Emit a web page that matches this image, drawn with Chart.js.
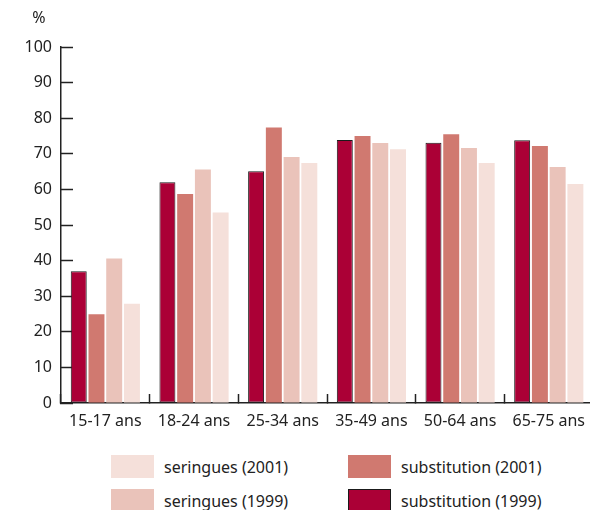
<!DOCTYPE html>
<html>
<head>
<meta charset="utf-8">
<script src="https://cdn.jsdelivr.net/npm/chart.js@4/dist/chart.umd.min.js"></script>
<style>
  html, body { margin: 0; padding: 0; background: #fff; }
  body { width: 590px; height: 510px; overflow: hidden; font-family: "Noto Sans", sans-serif; color: #222; }
  #wrap { position: relative; width: 603px; height: 440px; }
  #legende { position: relative; height: 70px; }
  .item { position: absolute; display: flex; align-items: center; font-size: 16px; }
  .item span.boite { display: inline-block; width: 43px; height: 23px; box-sizing: border-box; margin-right: 10px; }
</style>
</head>
<body>
<div id="wrap"><canvas id="myChart"></canvas></div>
<div id="legende"></div>
<script>
var categories    = ['15-17 ans', '18-24 ans', '25-34 ans', '35-49 ans', '50-64 ans', '65-75 ans'];
var subst1999     = [37.0, 62.0, 65.1, 73.9, 73.1, 73.8];
var subst2001     = [24.9, 58.7, 77.4, 75.0, 75.5, 72.2];
var seringues1999 = [40.6, 65.6, 69.1, 73.0, 71.6, 66.3];
var seringues2001 = [27.9, 53.5, 67.4, 71.3, 67.4, 61.5];
var graduations   = [0, 10, 20, 30, 40, 50, 60, 70, 80, 90, 100];

var encre = '#222';
var police = { family: '"Noto Sans", sans-serif', size: 16 };

// petit "%" au-dessus de l'axe vertical
var pourcent = {
    id: 'pourcent',
    afterDraw: function(chart) {
        var ctx = chart.ctx;
        ctx.save();
        ctx.fillStyle = encre;
        ctx.font = '16px "Noto Sans", sans-serif';
        ctx.textAlign = 'center';
        ctx.textBaseline = 'middle';
        ctx.fillText('%', 39, 18);
        ctx.restore();
    }
};

var canvas  = document.getElementById('myChart');
var context = canvas.getContext('2d');

var myChart = new Chart(context, {
    type: 'bar',
    data: {
        labels: categories,
        datasets: [
            { label: 'substitution (1999)', data: subst1999, backgroundColor: '#ab0036', borderColor: '#1a1a1a', borderWidth: 1, borderSkipped: false },
            { label: 'substitution (2001)', data: subst2001, backgroundColor: '#d07970', borderWidth: 0 },
            { label: 'seringues (1999)', data: seringues1999, backgroundColor: '#eac3ba', borderWidth: 0 },
            { label: 'seringues (2001)', data: seringues2001, backgroundColor: '#f5e0da', borderWidth: 0 }
        ]
    },
    options: {
        responsive: true,
        maintainAspectRatio: false,
        animation: false,
        layout: { padding: { top: 47, left: 0, right: 0, bottom: 0 } },
        datasets: { bar: { categoryPercentage: 0.8, barPercentage: 0.9 } },
        plugins: {
            legend: { display: false },
            tooltip: { enabled: false }
        },
        scales: {
            x: {
                grid: {
                    offset: true,
                    drawOnChartArea: false,
                    tickLength: -9,
                    tickWidth: 1.5,
                    tickColor: encre
                },
                border: { color: encre, width: 1.5 },
                ticks: { color: encre, font: police, padding: 18, maxRotation: 0 },
                afterFit: function(s) { s.height = 37; }
            },
            y: {
                min: 0,
                max: 100,
                afterBuildTicks: function(s) {
                    s.ticks = graduations.map(function(v) { return { value: v }; });
                },
                grid: {
                    drawOnChartArea: false,
                    tickLength: -12,
                    tickWidth: 1.5,
                    tickColor: encre
                },
                border: { color: encre, width: 1.5 },
                ticks: { color: encre, font: police, padding: 21 },
                afterFit: function(s) { s.width = 61; }
            }
        }
    },
    plugins: [pourcent]
});

// légende sur deux colonnes, construite à partir des jeux de données
var ordre = [3, 1, 2, 0];
var places = [[111, 15], [348, 15], [111, 49], [348, 49]];
var legende = document.getElementById('legende');
ordre.forEach(function(idx, i) {
    var ds = myChart.data.datasets[idx];
    var div = document.createElement('div');
    div.className = 'item';
    div.style.left = places[i][0] + 'px';
    div.style.top = places[i][1] + 'px';
    var boite = document.createElement('span');
    boite.className = 'boite';
    boite.style.background = ds.backgroundColor;
    if (ds.borderWidth) boite.style.border = ds.borderWidth + 'px solid ' + ds.borderColor;
    div.appendChild(boite);
    div.appendChild(document.createTextNode(ds.label));
    legende.appendChild(div);
});
</script>
</body>
</html>
